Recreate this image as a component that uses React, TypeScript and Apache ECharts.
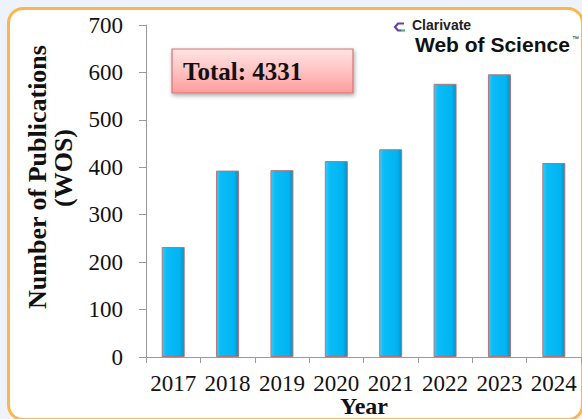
import React, { useEffect, useRef } from "react";
import * as echarts from "echarts";

const years = ["2017", "2018", "2019", "2020", "2021", "2022", "2023", "2024"];
const publications = [232, 393, 394, 413, 438, 576, 596, 409];
const yTicks = { min: 0, max: 700, interval: 100 };
const totalLabel = "Total: 4331";
const yTitleLines = ["Number of Publications", "(WOS)"];
const xTitle = "Year";

const SERIF = '"Liberation Serif", "Times New Roman", serif';
const SANS = '"Liberation Sans", Arial, sans-serif';

export default function App() {
  const ref = useRef<HTMLDivElement>(null);
  useEffect(() => {
    if (!ref.current) return;
    const chart = echarts.init(ref.current, null, { renderer: "svg" });
    const barFill = new echarts.graphic.LinearGradient(0, 0, 1, 0, [
      { offset: 0, color: "#3ACAF8" },
      { offset: 0.18, color: "#0ABDF7" },
      { offset: 0.8, color: "#00B4F2" },
      { offset: 1, color: "#0690C4" },
    ]);
    chart.setOption({
      animation: false,
      backgroundColor: "transparent",
      grid: { left: 146, right: 1, top: 25, bottom: 62, containLabel: false },
      xAxis: {
        type: "category",
        data: years,
        boundaryGap: true,
        axisLine: { show: true, lineStyle: { color: "#9A9A9A", width: 1 } },
        axisTick: { show: true, length: 6, lineStyle: { color: "#9A9A9A" } },
        axisLabel: {
          margin: 15,
          color: "#111",
          fontSize: 23,
          fontFamily: SERIF,
          interval: 0,
        },
      },
      yAxis: {
        type: "value",
        min: yTicks.min,
        max: yTicks.max,
        interval: yTicks.interval,
        splitLine: { show: false },
        axisLine: { show: true, lineStyle: { color: "#9A9A9A", width: 1 } },
        axisTick: { show: true, length: 7, inside: false, lineStyle: { color: "#9A9A9A" } },
        axisLabel: {
          margin: 23,
          color: "#111",
          fontSize: 23,
          fontFamily: SERIF,
        },
      },
      series: [
        {
          type: "bar",
          data: publications,
          barWidth: 23,
          itemStyle: {
            color: barFill,
            borderColor: "#B87474",
            borderWidth: 1,
          },
        },
      ],
      graphic: [
        {
          type: "text",
          x: 37,
          y: 177,
          rotation: Math.PI / 2,
          z: 100,
          style: {
            text: yTitleLines[0],
            fill: "#111",
            font: `bold 26px ${SERIF}`,
            textAlign: "center",
            textVerticalAlign: "middle",
          },
        },
        {
          type: "text",
          x: 63,
          y: 168,
          rotation: Math.PI / 2,
          z: 100,
          style: {
            text: yTitleLines[1],
            fill: "#111",
            font: `bold 26px ${SERIF}`,
            textAlign: "center",
            textVerticalAlign: "middle",
          },
        },
        {
          type: "text",
          x: 364,
          y: 406,
          z: 100,
          style: {
            text: xTitle,
            fill: "#111",
            font: `bold 24px ${SERIF}`,
            lineHeight: 24,
            textAlign: "center",
            textVerticalAlign: "middle",
          },
        },
        {
          type: "rect",
          z: 100,
          shape: { x: 172, y: 49, width: 181, height: 44 },
          style: {
            fill: new echarts.graphic.LinearGradient(0, 0, 0, 1, [
              { offset: 0, color: "#FFE4E4" },
              { offset: 0.5, color: "#FFC2C2" },
              { offset: 1, color: "#FF9C9C" },
            ]),
            stroke: "#D77472",
            lineWidth: 1.2,
            shadowBlur: 4,
            shadowOffsetX: 1,
            shadowOffsetY: 2,
            shadowColor: "rgba(0,0,0,0.35)",
          },
        },
        {
          type: "text",
          x: 183,
          y: 71,
          z: 101,
          style: {
            text: totalLabel,
            fill: "#111",
            font: `bold 25px ${SERIF}`,
            textAlign: "left",
            textVerticalAlign: "middle",
          },
        },
        {
          type: "polyline",
          z: 100,
          shape: { points: [[404, 23.5], [398, 23.5], [395, 27], [398, 30.5], [401, 30.5]] },
          style: { stroke: "#6B3FA0", lineWidth: 2.2, fill: null },
        },
        {
          type: "line",
          z: 100,
          shape: { x1: 401, y1: 30.5, x2: 405, y2: 30.5 },
          style: { stroke: "#3CB878", lineWidth: 2.2 },
        },
        {
          type: "text",
          x: 412,
          y: 25,
          z: 100,
          style: {
            text: "Clarivate",
            fill: "#222",
            font: `bold 14px ${SANS}`,
            lineHeight: 14,
            textAlign: "left",
            textVerticalAlign: "middle",
          },
        },
        {
          type: "text",
          x: 415,
          y: 44.5,
          z: 100,
          style: {
            text: "Web of Science",
            fill: "#111",
            font: `bold 21px ${SANS}`,
            lineHeight: 19,
            textAlign: "left",
            textVerticalAlign: "middle",
          },
        },
        {
          type: "text",
          x: 572,
          y: 38,
          z: 100,
          style: {
            text: "™",
            fill: "#111",
            font: `7px ${SANS}`,
            lineHeight: 7,
            textAlign: "left",
            textVerticalAlign: "middle",
          },
        },
      ],
    });
    return () => chart.dispose();
  }, []);

  return (
    <div
      style={{
        position: "fixed",
        left: 0,
        top: 0,
        width: 582,
        height: 419,
        background: "#EEF3FB",
        overflow: "hidden",
      }}
    >
      <div
        style={{
          position: "absolute",
          left: 7,
          top: 7,
          width: 577,
          height: 414,
          boxSizing: "border-box",
          border: "3px solid #FDB64E",
          borderRadius: 16,
          background: "#FFFFFF",
        }}
      />
      <div ref={ref} style={{ position: "absolute", left: 0, top: 0, width: 582, height: 419 }} />
    </div>
  );
}
